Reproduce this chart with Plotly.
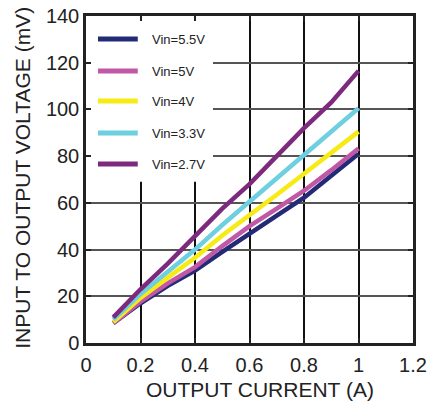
import plotly.graph_objects as go

current = [0.1, 0.2, 0.3, 0.4, 0.5, 0.6, 0.7, 0.8, 0.9, 1.0]
v_55 = [8.5, 17.0, 24.5, 31.0, 39.0, 46.5, 54.5, 62.2, 71.5, 81.0]
v_5 = [8.5, 17.7, 25.5, 32.5, 41.5, 50.0, 57.5, 65.2, 74.0, 83.3]
v_4 = [9.0, 19.3, 28.0, 36.5, 46.0, 54.5, 63.5, 72.5, 81.5, 90.5]
v_33 = [10.0, 21.0, 30.5, 40.0, 50.5, 60.5, 70.5, 80.3, 90.3, 100.5]
v_27 = [11.0, 23.0, 34.0, 45.5, 57.5, 68.0, 80.0, 92.0, 103.0, 116.5]

series_names = ["Vin=5.5V", "Vin=5V", "Vin=4V", "Vin=3.3V", "Vin=2.7V"]
series_values = [v_55, v_5, v_4, v_33, v_27]
series_colors = ["#232a76", "#c158a6", "#f6eb14", "#6dcfe0", "#7d2a7e"]

x_ticks = [0, 0.2, 0.4, 0.6, 0.8, 1, 1.2]
x_tick_text = ["0", "0.2", "0.4", "0.6", "0.8", "1", "1.2"]
y_ticks = [0, 20, 40, 60, 80, 100, 120, 140]

x_title = "OUTPUT CURRENT (A)"
y_title = "INPUT TO OUTPUT VOLTAGE (mV)"

FONT = "Liberation Sans, Arial, sans-serif"

fig = go.Figure()
for name, vals, col in zip(series_names, series_values, series_colors):
    fig.add_trace(go.Scatter(x=current, y=vals, mode="lines", name=name,
                             line=dict(color=col, width=4.5), showlegend=False))

# legend background covering gridlines
fig.add_shape(type="rect", xref="x", yref="y", x0=0, x1=0.466, y0=69, y1=140,
              fillcolor="white", line=dict(width=0), layer="between")

leg_y = [130.1, 116.4, 103.6, 89.9, 76.6]
for name, col, yy in zip(series_names, series_colors, leg_y):
    fig.add_shape(type="line", xref="x", yref="y", x0=0.044, x1=0.19, y0=yy, y1=yy,
                  line=dict(color=col, width=5), layer="above")
    fig.add_annotation(x=0.235, y=yy, xref="x", yref="y", text=name, showarrow=False,
                       xanchor="left", yanchor="middle",
                       font=dict(family=FONT, size=13, color="#222"))

# axis titles
fig.add_annotation(x=0.532, y=-0.141, xref="paper", yref="paper", text=x_title,
                   showarrow=False, xanchor="center", yanchor="middle",
                   font=dict(family=FONT, size=21, color="#222"))
fig.add_annotation(x=-0.193, y=0.505, xref="paper", yref="paper", text=y_title,
                   showarrow=False, xanchor="center", yanchor="middle", textangle=-90,
                   font=dict(family=FONT, size=21, color="#222"))

fig.update_layout(
    width=438, height=402,
    margin=dict(l=86, r=25, t=16, b=59, autoexpand=False),
    paper_bgcolor="white", plot_bgcolor="white",
    font=dict(family=FONT, color="#222"),
)
fig.update_xaxes(range=[0, 1.2], tickvals=x_ticks, ticktext=x_tick_text,
                 automargin=False, ticklabelstandoff=2,
                 showgrid=True, gridcolor="#111", gridwidth=1.5,
                 showline=True, linecolor="#222", linewidth=2.5, mirror="ticks",
                 ticks="inside", ticklen=5, tickcolor="#222", tickwidth=1.5,
                 tickfont=dict(size=20, family=FONT, color="#222"),
                 zeroline=False)
fig.update_yaxes(range=[0, 140], tickvals=y_ticks,
                 automargin=False, ticklabeloverflow="allow",
                 showgrid=True, gridcolor="#555", gridwidth=1.5,
                 showline=True, linecolor="#222", linewidth=2.5, mirror="ticks",
                 ticks="inside", ticklen=5, tickcolor="#222", tickwidth=1.5,
                 tickfont=dict(size=20, family=FONT, color="#222"),
                 zeroline=False)

# remove the browser's default 8px body margin so the figure sits at the page corner
fig.write_html("out.html", config={"displayModeBar": False},
               post_script="document.body.style.margin='0';")
